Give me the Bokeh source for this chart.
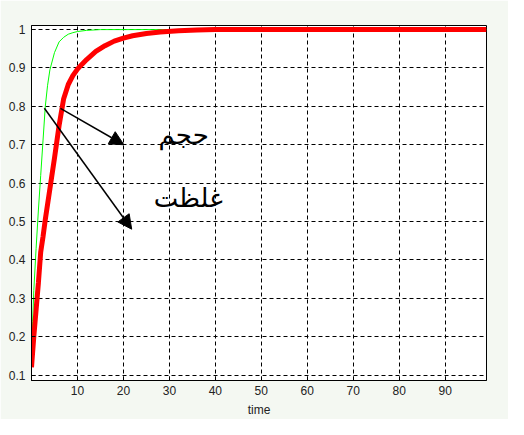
from bokeh.plotting import figure
from bokeh.models import Range1d, FixedTicker, PrintfTickFormatter, Arrow, NormalHead, ColumnDataSource
from bokeh.core.properties import value
from bokeh.embed import file_html
from bokeh.resources import INLINE

# ---- data ----
red_t = [0, 0.5, 1, 1.5, 2, 2.5, 3, 4, 5, 6, 7, 8, 9, 10, 11, 12, 14, 16, 18, 20, 22, 25, 28, 32, 36, 40, 99]
red_y = [0.12, 0.20, 0.27, 0.34, 0.42, 0.46, 0.505, 0.585, 0.665, 0.75, 0.82, 0.857, 0.88, 0.897, 0.91, 0.922, 0.943,
         0.958, 0.970, 0.978, 0.984, 0.99, 0.994, 0.997, 0.999, 1.0, 1.0]

green_t = [0, 0.25, 0.5, 1, 1.5, 2, 2.5, 3, 3.5, 4, 5, 6, 7, 8, 9, 10, 12, 15, 99]
green_y = [0.12, 0.24, 0.32, 0.43, 0.53, 0.62, 0.71, 0.80, 0.855, 0.895, 0.94, 0.968, 0.98, 0.988, 0.992, 0.995,
           0.998, 1.0, 1.0]

x_ticks = [10, 20, 30, 40, 50, 60, 70, 80, 90]
y_ticks = [0.1, 0.2, 0.3, 0.4, 0.5, 0.6, 0.7, 0.8, 0.9, 1.0]

arrow_x0 = [6.3, 2.8]
arrow_y0 = [0.795, 0.795]
arrow_x1 = [20.1, 21.8]
arrow_y1 = [0.70, 0.48]

label_text = ["حجم", "غلظت"]
label_x = [33.1, 34.1]
label_y = [0.726, 0.561]

x_label = "time"

# ---- figure ----
BG = "#f4f8f2"
p = figure(width=508, height=419, output_backend="svg", toolbar_location=None,
           x_range=Range1d(0, 99), y_range=Range1d(0.0858, 1.0107),
           background_fill_color="white", border_fill_color=BG,
           min_border_left=31, min_border_right=22, min_border_top=25, min_border_bottom=37)

p.outline_line_color = "black"
p.outline_line_width = 1

for ax in (p.xaxis[0], p.yaxis[0]):
    ax.axis_line_color = "black"
    ax.major_tick_in = 4
    ax.major_tick_out = 0
    ax.minor_tick_line_color = None
    ax.major_tick_line_color = "black"
    ax.major_label_text_font = "Liberation Sans"
    ax.major_label_text_font_size = "12px"
    ax.major_label_text_color = "#222222"

p.xaxis.ticker = FixedTicker(ticks=x_ticks)
p.yaxis.ticker = FixedTicker(ticks=y_ticks)
p.yaxis.formatter = PrintfTickFormatter(format="%g")
p.yaxis.major_label_standoff = 6
p.xaxis.major_label_standoff = 5
p.xaxis.axis_label = x_label
p.xaxis.axis_label_standoff = 5
p.xaxis.axis_label_text_font = "Liberation Sans"
p.xaxis.axis_label_text_font_size = "12px"
p.xaxis.axis_label_text_font_style = "normal"
p.xaxis.axis_label_text_color = "#222222"

p.xgrid.ticker = FixedTicker(ticks=x_ticks)
p.ygrid.ticker = FixedTicker(ticks=y_ticks)
for g in (p.xgrid[0], p.ygrid[0]):
    g.grid_line_color = "black"
    g.grid_line_dash = "4 3"
    g.grid_line_width = 1

p.line(green_t, green_y, line_color="#00ff00", line_width=1)
p.line(red_t, red_y, line_color="#ff0000", line_width=5)

asrc = ColumnDataSource(dict(x0=arrow_x0, y0=arrow_y0, x1=arrow_x1, y1=arrow_y1))
p.add_layout(Arrow(source=asrc, x_start="x0", y_start="y0", x_end="x1", y_end="y1",
                   line_color="black", line_width=1.5,
                   end=NormalHead(size=14, fill_color="black", line_color="black")))

p.text(x=label_x, y=label_y, text=label_text, text_font=value("DejaVu Sans"),
       text_font_size="26px", text_align="center", text_baseline="middle", text_color="black")

open("out.html", "w").write(file_html(p, INLINE))
